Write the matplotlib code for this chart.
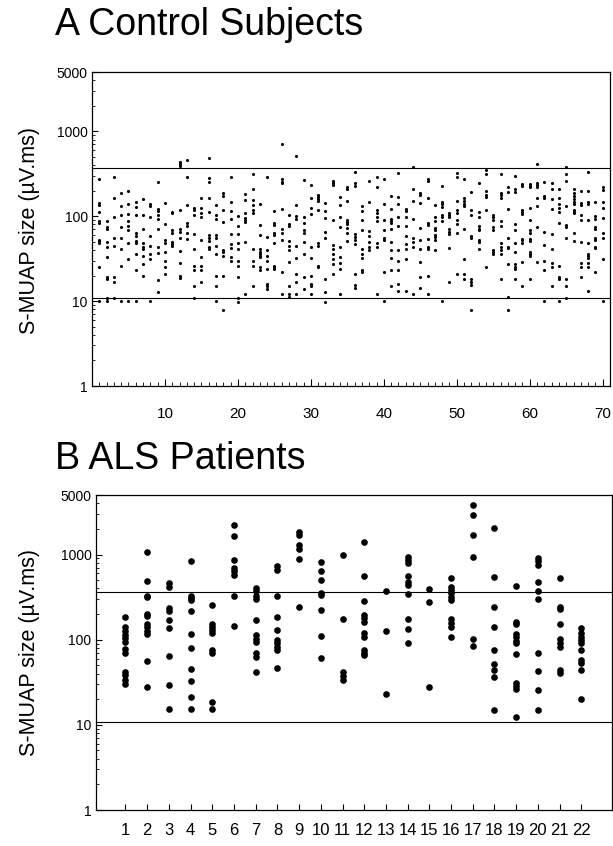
import matplotlib
matplotlib.use("Agg")
import matplotlib.pyplot as plt
from matplotlib.ticker import LogLocator, FixedLocator, NullFormatter, MultipleLocator
import numpy as np

plt.rcParams['font.family'] = ['Liberation Sans', 'DejaVu Sans']

# S-MUAP sizes (uV.ms), one list per subject
control = [
    [271, 142, 136, 111, 88, 83, 53, 51, 48, 25, 10],          # 1
    [88, 75, 70, 50, 43, 33, 19, 18, 11, 10],
    [291, 165, 98, 56, 45, 19, 17, 11],
    [189, 131, 103, 75, 56, 41, 26, 10],
    [199, 138, 105, 88, 77, 69, 48, 31, 10],
    [148, 129, 102, 63, 58, 51, 48, 36, 23, 10],
    [160, 102, 70, 48, 43, 41, 34, 27, 20],
    [141, 131, 98, 59, 45, 36, 31, 10],
    [250, 123, 115, 103, 93, 70, 43, 37, 17.5, 12.8],
    [143, 81, 52, 49, 38, 30, 25, 21],                           # 10
    [112, 108, 68, 63, 50, 47, 44],
    [434, 411, 392, 120, 70, 66, 55, 39, 28, 20, 18.6],
    [458, 286, 135, 83, 76, 63, 54],
    [126, 120, 102, 61, 41, 26, 23, 15, 11],
    [165, 126, 108, 98, 53, 33, 26, 23, 16.8],
    [480, 281, 252, 162, 111, 60, 56, 51, 43, 41],
    [135, 102, 94, 60, 56, 45, 36, 20, 15, 10],
    [189, 172, 120, 86, 40, 38, 34, 20, 7.9],
    [286, 146, 116, 94, 62, 47, 42, 33, 30],
    [100, 76, 62, 48, 41, 30, 26, 19, 11, 9.7],                  # 20
    [185, 155, 108, 96, 91, 86, 50, 12],
    [313, 207, 155, 134, 118, 110, 41, 30, 26, 15],
    [138, 78, 60, 41, 38, 36, 34, 33, 25, 23],
    [286, 57, 40, 34, 30, 24, 16, 15, 14],
    [115, 83, 78, 63, 60, 48, 26, 25, 24],
    [708, 271, 252, 243, 123, 70, 64, 52, 22, 12],
    [102, 82, 77, 51, 45, 40, 29, 15, 12, 11.2],
    [515, 135, 100, 94, 45, 32, 21, 16.8, 12],
    [266, 98, 83, 68, 64, 50, 36, 19, 14],
    [236, 165, 126, 106, 43, 32, 20, 16, 15, 12],                # 30
    [180, 169, 160, 152, 118, 49, 45, 26, 25],
    [143, 116, 96, 65, 56, 18, 12.9, 9.8],
    [261, 247, 236, 90, 46, 41, 36, 31, 27, 21],
    [169, 137, 98, 75, 43, 33, 28, 24, 12],
    [222, 210, 152, 91, 86, 82, 73, 64, 51],
    [331, 243, 226, 62, 57, 53, 47, 21, 15.3, 14.4],
    [131, 116, 90, 68, 41, 36, 32, 23, 22],
    [261, 146, 67, 59, 50, 43, 40],
    [291, 218, 118, 108, 98, 88, 48, 43, 12],
    [271, 138, 90, 68, 56, 53, 22, 10],                          # 40
    [172, 122, 94, 88, 83, 70, 50, 40, 32, 23, 15],
    [325, 169, 138, 98, 76, 40, 30, 23, 16, 13],
    [123, 116, 98, 76, 58, 47, 41, 31, 13],
    [376, 207, 152, 93, 56, 50, 43, 12],
    [189, 177, 143, 72, 52, 41, 29, 19, 14.4],
    [278, 261, 162, 83, 78, 54, 43, 41, 20, 12],
    [135, 98, 88, 73, 68, 60, 57, 52, 40],
    [226, 149, 138, 129, 103, 98, 88, 10],
    [110, 103, 98, 70, 66, 61, 42, 17],
    [325, 291, 152, 118, 108, 90, 80, 63, 21],                   # 50
    [276, 162, 152, 141, 131, 71, 31, 21, 18],
    [192, 120, 103, 58, 55, 18, 16.8, 15.6, 7.9],
    [243, 111, 98, 76, 71, 68, 53, 50, 41],
    [349, 313, 196, 180, 169, 120, 25],
    [103, 98, 90, 75, 68, 40, 38, 36],
    [313, 189, 177, 162, 88, 76, 48, 43, 40, 36, 18],
    [222, 194, 122, 55, 43, 42, 27, 11.2, 7.9],
    [297, 212, 194, 80, 68, 48, 38, 27, 25, 24, 18],
    [238, 226, 120, 113, 106, 54, 52, 48, 29, 15],
    [238, 226, 218, 126, 90, 68, 64, 54, 51, 38, 36, 34, 18],    # 60
    [411, 243, 234, 222, 166, 131, 75, 29],
    [250, 172, 162, 66, 46, 30, 23, 10],
    [247, 207, 158, 123, 62, 41, 28, 25, 15],
    [212, 162, 141, 126, 111, 83, 26, 19, 18, 10],
    [376, 313, 261, 131, 78, 75, 55, 18, 15, 11],
    [212, 189, 172, 158, 148, 138, 120, 113, 108, 64, 51],
    [199, 143, 135, 103, 90, 50, 28, 25, 19],
    [336, 199, 148, 141, 91, 48, 36, 34, 32, 28, 25, 13],
    [149, 100, 94, 75, 71, 56, 53, 43, 42, 22],
    [218, 203, 148, 126, 96, 64, 56, 31, 10],                    # 70
]

als = [
    [187, 142, 127, 115, 105, 93, 78, 69, 42, 38, 34, 30],       # 1
    [1060, 495, 330, 321, 200, 190, 153, 142, 127, 117, 56, 27.5],
    [461, 421, 234, 220, 168, 138, 64, 29, 15.5],
    [833, 330, 306, 294, 220, 117, 80, 45, 33, 21.3, 15.5],
    [256, 153, 142, 130, 119, 75, 70, 18.6, 15.5],
    [2250, 1670, 853, 694, 633, 578, 327, 145],
    [403, 370, 330, 298, 168, 114, 102, 93, 69, 63, 42],
    [734, 663, 327, 187, 130, 99, 91, 83, 76, 46],
    [1820, 1700, 1280, 1170, 880, 245],
    [816, 646, 497, 352, 333, 224, 110, 61],                     # 10
    [986, 174, 42, 37, 33.5],
    [1390, 553, 288, 195, 179, 163, 119, 108, 76, 70, 66],
    [375, 127, 23.3],
    [927, 870, 795, 553, 470, 437, 345, 174, 135, 92],
    [396, 278, 28],
    [524, 414, 385, 352, 315, 294, 174, 156, 142, 108],
    [3770, 2930, 1700, 944, 101, 84],
    [2050, 543, 245, 142, 76, 52, 44, 36, 15.1],
    [429, 163, 153, 117, 107, 97, 91, 68, 31, 28.4, 26.7, 12.2],
    [918, 839, 752, 478, 378, 299, 70, 43, 26, 15.1],            # 20
    [524, 245, 230, 153, 103, 91, 83, 44, 41],
    [136, 119, 108, 99, 91, 76, 58, 53, 44, 20],
]

upper_limit = 365
lower_limit = 10.8
y_ticks = [1, 10, 100, 1000, 5000]
y_label = "S-MUAP size (µV.ms)"

W, H = 613, 846
fig = plt.figure(figsize=(W / 100, H / 100), dpi=100)


def style_y(ax):
    ax.set_yscale("log")
    ax.set_ylim(1, 5000)
    ax.yaxis.set_major_locator(FixedLocator(y_ticks))
    ax.yaxis.set_minor_locator(LogLocator(base=10, subs=np.arange(2, 10)))
    ax.yaxis.set_minor_formatter(NullFormatter())
    ax.set_yticklabels([str(t) for t in y_ticks])
    ax.tick_params(axis="y", which="major", direction="in", length=4, width=0.8,
                   labelsize=10, pad=3)
    ax.tick_params(axis="y", which="minor", direction="in", length=2.5, width=0.6)
    for s in ax.spines.values():
        s.set_linewidth(0.9)
    ax.axhline(upper_limit, color="black", lw=0.8)
    ax.axhline(lower_limit, color="black", lw=0.8)


# --- A: control subjects ---
axA = fig.add_axes([92 / W, 1 - 386 / H, 518 / W, 314 / H])
for i, vals in enumerate(control, start=1):
    axA.scatter(np.full(len(vals), i), vals, s=5, color="black", lw=0)
style_y(axA)
axA.set_xlim(0, 71)
axA.xaxis.set_minor_locator(MultipleLocator(1))
axA.set_xticks([10, 20, 30, 40, 50, 60, 70])
axA.tick_params(axis="x", which="major", direction="in", length=5, width=0.8,
                labelsize=11, pad=15)
axA.tick_params(axis="x", which="minor", direction="in", length=3, width=0.6)

# --- B: ALS patients ---
axB = fig.add_axes([95.7 / W, 1 - 810 / H, 516 / W, 315 / H])
for i, vals in enumerate(als, start=1):
    axB.scatter(np.full(len(vals), i), vals, s=23, color="black", lw=0)
style_y(axB)
axB.set_xlim(-0.37, 23.4)
axB.set_xticks(range(1, len(als) + 1))
axB.tick_params(axis="x", which="major", direction="in", length=4, width=0.8,
                labelsize=12, pad=9)
axB.tick_params(axis="x", which="minor", length=0)

fig.text(30 / W, 1 - 230 / H, y_label, rotation=90, ha="center", va="center", fontsize=15.5)
fig.text(30 / W, 1 - 653 / H, y_label, rotation=90, ha="center", va="center", fontsize=15.5)

fig.text(55 / W, 1 - 35 / H, "A Control Subjects", fontsize=27, va="baseline")
fig.text(55 / W, 1 - 469 / H, "B ALS Patients", fontsize=27, va="baseline")

fig.savefig("out.png", dpi=100)
